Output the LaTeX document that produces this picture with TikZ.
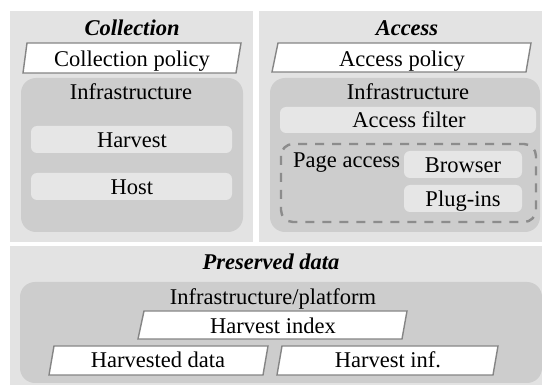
\documentclass[tikz,border=0pt]{standalone}
\usepackage{fontspec}
\setmainfont{Liberation Serif}
\definecolor{panelgray}{HTML}{E3E3E3}
\definecolor{infragray}{HTML}{CDCDCD}
\definecolor{boxgray}{HTML}{E6E6E6}
\definecolor{edgegray}{HTML}{858585}
\definecolor{dashgray}{HTML}{8C8C8C}
\tikzset{
  panel/.style={fill=panelgray},
  infra/.style={fill=infragray, rounded corners=15pt},
  subbox/.style={fill=boxgray, rounded corners=6pt},
  paragram/.style={fill=white, draw=edgegray, line width=1.4pt, line join=miter},
  dashframe/.style={draw=dashgray, line width=2.4pt, dash pattern=on 9pt off 8pt, rounded corners=12pt},
  lbl/.style={anchor=base, inner sep=0pt, font=\fontsize{22.5}{27}\selectfont},
  ttl/.style={lbl, font=\fontsize{22.5}{27}\selectfont\bfseries\itshape},
}
\begin{document}
\begin{tikzpicture}[x=1pt, y=-1pt]
\useasboundingbox (0,0) rectangle (542,385);
\clip (0,0) rectangle (542,385);

% --- Collection panel ---
\fill[panel] (10,11) rectangle (253,242);
\node[ttl] (colttl) at (132,36) {Collection};
\draw[paragram] (23,73) -- (27,43) -- (241,43) -- (236,73) -- cycle;
\node[lbl] (colpol) at (132,67) {Collection policy};
\fill[infra] (21,78) rectangle (243,232);
\node[lbl] (colinf) at (131,100) {Infrastructure};
\fill[subbox] (31,126) rectangle (232,153);
\node[lbl] (harv) at (132,148) {Harvest};
\fill[subbox] (31,173) rectangle (232,200);
\node[lbl] (host) at (132,195) {Host};

% --- Access panel ---
\fill[panel] (259,11) rectangle (560,242);
\node[ttl] (accttl) at (407,36) {Access};
\draw[paragram] (272,72) -- (278,43) -- (531,43) -- (526,72) -- cycle;
\node[lbl] (accpol) at (402,67) {Access policy};
\fill[infra] (270,78) rectangle (540,232);
\node[lbl] (accinf) at (408,100) {Infrastructure};
\fill[subbox] (280,107) rectangle (536,133);
\node[lbl] (filter) at (409,128) {Access filter};
\draw[dashframe] (281,144) rectangle (536,222);
\node[lbl, anchor=base west] (page) at (293,168) {Page access};
\fill[subbox] (404,151) rectangle (522,178);
\node[lbl] (browser) at (463,173) {Browser};
\fill[subbox] (404,185) rectangle (522,212);
\node[lbl] (plugins) at (463,207) {Plug-ins};

% --- Preserved data panel ---
\fill[panel] (10,246) rectangle (560,400);
\node[ttl] (presttl) at (271,270) {Preserved data};
\fill[infra] (20,282) rectangle (542,383);
\node[lbl] (platform) at (273,305) {Infrastructure/platform};
\draw[paragram] (138,339) -- (144,311) -- (407,311) -- (402,339) -- cycle;
\node[lbl] (hindex) at (273,334) {Harvest index};
\draw[paragram] (49,375) -- (54,346) -- (268,346) -- (263,375) -- cycle;
\node[lbl] (hdata) at (158,368) {Harvested data};
\draw[paragram] (277,375) -- (282,346) -- (498,346) -- (493,375) -- cycle;
\node[lbl] (hinf) at (388,368) {Harvest inf.};
\end{tikzpicture}
\end{document}
